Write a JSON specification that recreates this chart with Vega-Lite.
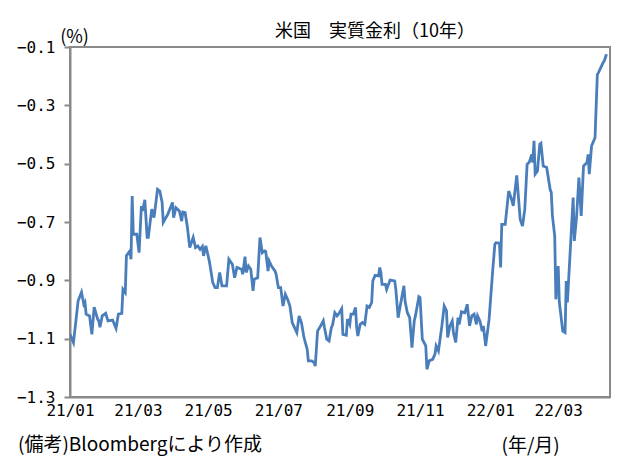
{
  "$schema": "https://vega.github.io/schema/vega-lite/v6.json",
  "autosize": {"type": "none"},
  "width": 540,
  "height": 350,
  "padding": {"left": 70, "top": 47, "right": 21, "bottom": 67},
  "background": "white",
  "title": {"text": "米国　実質金利（10年）", "font": "Noto Sans CJK JP", "fontSize": 18, "fontWeight": "normal", "color": "#000000", "anchor": "middle", "dx": 35, "dy": 17, "offset": 4, "frame": "group"},
  "config": {
    "view": {"stroke": "#898989", "strokeWidth": 2},
    "axis": {"grid": false, "domainColor": "#898989", "domainWidth": 2, "tickColor": "#898989", "labelColor": "#000000", "titleColor": "#000000"}
  },
  "data": {"values": [
    {"d":"2021-01-01","v":-1.085},{"d":"2021-01-04","v":-1.113},{"d":"2021-01-06","v":-1.044},{"d":"2021-01-08","v":-0.971},{"d":"2021-01-11","v":-0.941},{"d":"2021-01-13","v":-0.982},{"d":"2021-01-14","v":-0.975},{"d":"2021-01-15","v":-1.016},{"d":"2021-01-18","v":-1.022},{"d":"2021-01-20","v":-1.085},{"d":"2021-01-22","v":-0.992},{"d":"2021-01-25","v":-1.033},{"d":"2021-01-26","v":-1.039},{"d":"2021-01-27","v":-1.061},{"d":"2021-01-29","v":-1.022},
    {"d":"2021-02-01","v":-1.013},{"d":"2021-02-03","v":-1.039},{"d":"2021-02-07","v":-1.036},{"d":"2021-02-10","v":-1.065},{"d":"2021-02-12","v":-1.016},{"d":"2021-02-15","v":-1.013},{"d":"2021-02-16","v":-0.931},{"d":"2021-02-18","v":-0.942},{"d":"2021-02-19","v":-0.816},{"d":"2021-02-22","v":-0.799},{"d":"2021-02-23","v":-0.828},{"d":"2021-02-24","v":-0.611},{"d":"2021-02-25","v":-0.742},{"d":"2021-02-28","v":-0.742},
    {"d":"2021-03-02","v":-0.805},{"d":"2021-03-04","v":-0.645},{"d":"2021-03-05","v":-0.662},{"d":"2021-03-07","v":-0.624},{"d":"2021-03-09","v":-0.753},{"d":"2021-03-10","v":-0.753},{"d":"2021-03-13","v":-0.656},{"d":"2021-03-15","v":-0.685},{"d":"2021-03-18","v":-0.588},{"d":"2021-03-20","v":-0.594},{"d":"2021-03-22","v":-0.633},{"d":"2021-03-23","v":-0.701},{"d":"2021-03-27","v":-0.673},{"d":"2021-03-31","v":-0.633},
    {"d":"2021-04-01","v":-0.685},{"d":"2021-04-03","v":-0.651},{"d":"2021-04-06","v":-0.662},{"d":"2021-04-08","v":-0.697},{"d":"2021-04-09","v":-0.666},{"d":"2021-04-11","v":-0.668},{"d":"2021-04-13","v":-0.719},{"d":"2021-04-15","v":-0.788},{"d":"2021-04-18","v":-0.753},{"d":"2021-04-20","v":-0.788},{"d":"2021-04-22","v":-0.782},{"d":"2021-04-24","v":-0.794},{"d":"2021-04-26","v":-0.784},{"d":"2021-04-27","v":-0.816},{"d":"2021-04-29","v":-0.782},
    {"d":"2021-05-02","v":-0.834},{"d":"2021-05-05","v":-0.908},{"d":"2021-05-07","v":-0.925},{"d":"2021-05-09","v":-0.925},{"d":"2021-05-11","v":-0.873},{"d":"2021-05-13","v":-0.919},{"d":"2021-05-17","v":-0.919},{"d":"2021-05-19","v":-0.828},{"d":"2021-05-22","v":-0.845},{"d":"2021-05-24","v":-0.891},{"d":"2021-05-26","v":-0.856},{"d":"2021-05-30","v":-0.862},{"d":"2021-05-31","v":-0.879},
    {"d":"2021-06-02","v":-0.819},{"d":"2021-06-03","v":-0.873},{"d":"2021-06-05","v":-0.851},{"d":"2021-06-07","v":-0.862},{"d":"2021-06-09","v":-0.936},{"d":"2021-06-10","v":-0.896},{"d":"2021-06-13","v":-0.891},{"d":"2021-06-15","v":-0.753},{"d":"2021-06-17","v":-0.805},{"d":"2021-06-19","v":-0.799},{"d":"2021-06-20","v":-0.801},{"d":"2021-06-22","v":-0.868},{"d":"2021-06-23","v":-0.834},{"d":"2021-06-25","v":-0.851},{"d":"2021-06-28","v":-0.868},{"d":"2021-06-29","v":-0.879},
    {"d":"2021-07-01","v":-0.925},{"d":"2021-07-03","v":-0.925},{"d":"2021-07-05","v":-0.988},{"d":"2021-07-07","v":-0.948},{"d":"2021-07-09","v":-0.965},{"d":"2021-07-11","v":-0.988},{"d":"2021-07-13","v":-1.045},{"d":"2021-07-15","v":-1.062},{"d":"2021-07-17","v":-1.079},{"d":"2021-07-19","v":-1.022},{"d":"2021-07-21","v":-1.045},{"d":"2021-07-23","v":-1.091},{"d":"2021-07-24","v":-1.108},{"d":"2021-07-26","v":-1.136},{"d":"2021-07-27","v":-1.176},{"d":"2021-07-30","v":-1.176},
    {"d":"2021-08-01","v":-1.182},{"d":"2021-08-02","v":-1.194},{"d":"2021-08-04","v":-1.074},{"d":"2021-08-07","v":-1.054},{"d":"2021-08-09","v":-1.039},{"d":"2021-08-10","v":-1.062},{"d":"2021-08-12","v":-1.102},{"d":"2021-08-14","v":-1.108},{"d":"2021-08-16","v":-1.062},{"d":"2021-08-17","v":-1.054},{"d":"2021-08-19","v":-1.011},{"d":"2021-08-21","v":-1.022},{"d":"2021-08-23","v":-1.011},{"d":"2021-08-25","v":-0.997},{"d":"2021-08-26","v":-1.085},{"d":"2021-08-29","v":-1.088},{"d":"2021-08-30","v":-1.033},
    {"d":"2021-09-01","v":-1.051},{"d":"2021-09-02","v":-1.016},{"d":"2021-09-04","v":-1.016},{"d":"2021-09-06","v":-0.993},{"d":"2021-09-07","v":-1.062},{"d":"2021-09-08","v":-1.091},{"d":"2021-09-10","v":-1.051},{"d":"2021-09-12","v":-1.045},{"d":"2021-09-14","v":-1.051},{"d":"2021-09-16","v":-0.988},{"d":"2021-09-18","v":-0.993},{"d":"2021-09-20","v":-0.976},{"d":"2021-09-21","v":-0.902},{"d":"2021-09-23","v":-0.883},{"d":"2021-09-26","v":-0.885},{"d":"2021-09-27","v":-0.856},{"d":"2021-09-28","v":-0.873},{"d":"2021-09-29","v":-0.914},
    {"d":"2021-10-02","v":-0.914},{"d":"2021-10-03","v":-0.931},{"d":"2021-10-06","v":-0.899},{"d":"2021-10-10","v":-0.902},{"d":"2021-10-11","v":-0.931},{"d":"2021-10-13","v":-1.028},{"d":"2021-10-14","v":-1.005},{"d":"2021-10-18","v":-0.919},{"d":"2021-10-19","v":-0.971},{"d":"2021-10-21","v":-1.011},{"d":"2021-10-23","v":-1.028},{"d":"2021-10-25","v":-1.131},{"d":"2021-10-27","v":-1.039},{"d":"2021-10-28","v":-1.022},{"d":"2021-10-31","v":-0.956},
    {"d":"2021-11-01","v":-0.959},{"d":"2021-11-03","v":-1.102},{"d":"2021-11-06","v":-1.125},{"d":"2021-11-07","v":-1.205},{"d":"2021-11-09","v":-1.176},{"d":"2021-11-12","v":-1.171},{"d":"2021-11-14","v":-1.153},{"d":"2021-11-15","v":-1.125},{"d":"2021-11-17","v":-1.142},{"d":"2021-11-20","v":-1.056},{"d":"2021-11-22","v":-0.988},{"d":"2021-11-24","v":-1.005},{"d":"2021-11-25","v":-1.096},{"d":"2021-11-27","v":-1.056},{"d":"2021-11-29","v":-1.039},{"d":"2021-11-30","v":-1.079},
    {"d":"2021-12-02","v":-1.113},{"d":"2021-12-04","v":-1.028},{"d":"2021-12-05","v":-1.051},{"d":"2021-12-07","v":-1.008},{"d":"2021-12-10","v":-1.011},{"d":"2021-12-12","v":-0.982},{"d":"2021-12-14","v":-1.056},{"d":"2021-12-16","v":-1.022},{"d":"2021-12-18","v":-1.016},{"d":"2021-12-20","v":-1.051},{"d":"2021-12-21","v":-1.022},{"d":"2021-12-23","v":-1.039},{"d":"2021-12-25","v":-1.074},{"d":"2021-12-26","v":-1.056},{"d":"2021-12-28","v":-1.125},{"d":"2021-12-31","v":-1.033},
    {"d":"2022-01-03","v":-0.873},{"d":"2022-01-05","v":-0.776},{"d":"2022-01-06","v":-0.771},{"d":"2022-01-09","v":-0.773},{"d":"2022-01-10","v":-0.856},{"d":"2022-01-11","v":-0.708},{"d":"2022-01-14","v":-0.708},{"d":"2022-01-17","v":-0.594},{"d":"2022-01-19","v":-0.616},{"d":"2022-01-21","v":-0.645},{"d":"2022-01-24","v":-0.540},{"d":"2022-01-27","v":-0.691},{"d":"2022-01-29","v":-0.714},{"d":"2022-01-31","v":-0.656},
    {"d":"2022-02-02","v":-0.502},{"d":"2022-02-04","v":-0.494},{"d":"2022-02-06","v":-0.468},{"d":"2022-02-07","v":-0.496},{"d":"2022-02-08","v":-0.422},{"d":"2022-02-09","v":-0.536},{"d":"2022-02-11","v":-0.525},{"d":"2022-02-13","v":-0.433},{"d":"2022-02-14","v":-0.430},{"d":"2022-02-16","v":-0.508},{"d":"2022-02-19","v":-0.513},{"d":"2022-02-22","v":-0.588},{"d":"2022-02-23","v":-0.599},{"d":"2022-02-24","v":-0.679},{"d":"2022-02-26","v":-0.748},{"d":"2022-02-27","v":-0.965},
    {"d":"2022-03-01","v":-0.851},{"d":"2022-03-02","v":-0.976},{"d":"2022-03-05","v":-1.074},{"d":"2022-03-07","v":-1.079},{"d":"2022-03-08","v":-0.902},{"d":"2022-03-09","v":-0.976},{"d":"2022-03-14","v":-0.616},{"d":"2022-03-15","v":-0.765},{"d":"2022-03-17","v":-0.681},{"d":"2022-03-19","v":-0.548},{"d":"2022-03-21","v":-0.679},{"d":"2022-03-23","v":-0.508},{"d":"2022-03-26","v":-0.496},{"d":"2022-03-27","v":-0.468},{"d":"2022-03-28","v":-0.536},{"d":"2022-03-30","v":-0.439},
    {"d":"2022-04-02","v":-0.411},{"d":"2022-04-04","v":-0.194},{"d":"2022-04-05","v":-0.188},{"d":"2022-04-07","v":-0.171},{"d":"2022-04-09","v":-0.154},{"d":"2022-04-10","v":-0.148},{"d":"2022-04-12","v":-0.125}
  ]},
  "layer": [
    {
      "mark": {"type": "line", "color": "#4a7ebb", "strokeWidth": 2.8, "clip": true},
      "encoding": {
        "x": {"field": "d", "type": "temporal",
          "scale": {"domain": [{"year": 2021, "month": 1, "date": 1}, {"year": 2022, "month": 4, "date": 15}]},
          "axis": {"format": "%y/%m", "tickCount": {"interval": "month", "step": 2}, "ticks": false, "labelFlush": false, "labelOverlap": false, "labelPadding": 5, "labelFont": "DejaVu Sans Mono", "labelFontSize": 16, "labelBaseline": "top",
            "title": "(年/月)", "titleFont": "Noto Sans CJK JP", "titleFontSize": 19, "titleFontWeight": "normal", "titleAnchor": "start", "titleAlign": "left", "titleBaseline": "middle", "titleX": 431, "titleY": 48}},
        "y": {"field": "v", "type": "quantitative",
          "scale": {"domain": [-1.3, -0.1], "nice": false, "zero": false},
          "axis": {"values": [-1.3, -1.1, -0.9, -0.7, -0.5, -0.3, -0.1], "format": ".1f", "tickSize": 6, "tickWidth": 2, "labelPadding": 9, "labelFont": "DejaVu Sans Mono", "labelFontSize": 16,
            "title": "(%)", "titleFont": "Noto Sans CJK JP", "titleFontSize": 18, "titleFontWeight": "normal", "titleAngle": 0, "titleAlign": "center", "titleBaseline": "middle", "titleX": 4, "titleY": -10}}
      }
    },
    {
      "data": {"values": [{"note": "(備考)Bloombergにより作成"}]},
      "mark": {"type": "text", "align": "left", "baseline": "middle", "dx": -52, "dy": 48, "font": "Noto Sans CJK JP", "fontSize": 19, "color": "#000000"},
      "encoding": {
        "x": {"datum": {"year": 2021, "month": 1, "date": 1}, "type": "temporal"},
        "y": {"datum": -1.3, "type": "quantitative"},
        "text": {"field": "note", "type": "nominal"}
      }
    }
  ]
}
